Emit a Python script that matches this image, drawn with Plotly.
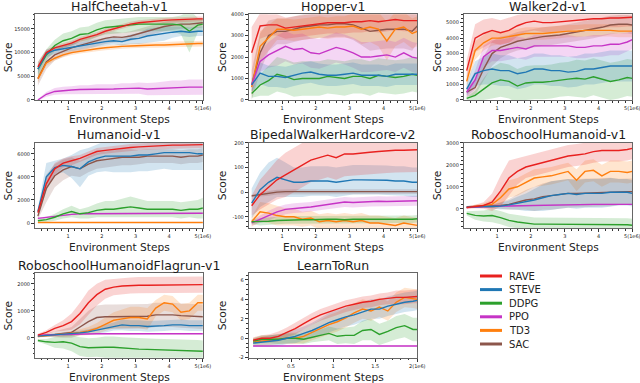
import plotly.graph_objects as go

# ---------------- data ----------------
X = [0.1, 0.35, 0.6, 0.85, 1.1, 1.35, 1.6, 1.85, 2.1, 2.35, 2.6, 2.85, 3.1, 3.35, 3.6, 3.85, 4.1, 4.35, 4.6, 4.85, 5.0]
X_LTR = [0.05, 0.15, 0.25, 0.35, 0.45, 0.55, 0.65, 0.75, 0.85, 0.95, 1.05, 1.15, 1.25, 1.35, 1.45, 1.55, 1.65, 1.75, 1.85, 1.95, 2.0]

methods = ["RAVE", "STEVE", "DDPG", "PPO", "TD3", "SAC"]
colors = {"RAVE": "#e8211f", "STEVE": "#1f77b4", "DDPG": "#2ca02c",
          "PPO": "#c634c6", "TD3": "#ff7f0e", "SAC": "#8c564b"}

# HalfCheetah-v1
hc_rave = [7000, 10000, 11000, 11500, 12000, 12800, 13300, 13800, 14500, 15000, 15500, 16000, 16300, 16500, 16700, 16800, 16900, 17000, 17000, 17100, 17100]
hc_rave_sd = [1000, 600, 500, 500, 500, 500, 500, 500, 500, 500, 500, 500, 500, 500, 500, 500, 500, 500, 500, 500, 500]
hc_steve = [6500, 9800, 10500, 10800, 11200, 11500, 11800, 12000, 12300, 12500, 12300, 12800, 13000, 13500, 13800, 14000, 14300, 14500, 14300, 14500, 14500]
hc_steve_sd = [1000, 800, 800, 800, 800, 800, 800, 800, 800, 800, 800, 1000, 1200, 1500, 1500, 1500, 1200, 1000, 1000, 1000, 1000]
hc_ddpg = [6500, 9500, 11500, 12500, 13000, 13800, 14000, 14800, 15300, 15500, 15600, 15800, 16000, 16000, 16000, 16000, 16000, 15800, 14500, 15800, 16000]
hc_ddpg_sd = [1500, 1200, 1200, 1500, 1500, 1500, 1500, 1500, 1500, 1500, 1500, 1500, 1500, 1500, 1500, 1500, 1500, 2000, 4500, 1500, 1200]
hc_ppo = [0, 1200, 1800, 2000, 2100, 2200, 2200, 2300, 2300, 2300, 2400, 2400, 2500, 2300, 2400, 2500, 2600, 2600, 2700, 2700, 2700]
hc_ppo_sd = [200, 500, 700, 800, 800, 900, 900, 1000, 1000, 1000, 1100, 1100, 1200, 1300, 1300, 1400, 1500, 1500, 1600, 1600, 1600]
hc_td3 = [4500, 7800, 8800, 9500, 10000, 10300, 10600, 10800, 11000, 11200, 11300, 11400, 11500, 11500, 11600, 11600, 11700, 11800, 11800, 11900, 11900]
hc_td3_sd = [800, 600, 500, 500, 500, 500, 500, 500, 500, 500, 500, 500, 500, 500, 600, 600, 600, 600, 600, 600, 600]
hc_sac = [4500, 8000, 9500, 10300, 11000, 11500, 12000, 12500, 13000, 13300, 13200, 13500, 14000, 14500, 15000, 15500, 15800, 16000, 16000, 16200, 16300]
hc_sac_sd = [1500, 1500, 1200, 1200, 1200, 1200, 1200, 1200, 1200, 1200, 1000, 1000, 1000, 1000, 1000, 1000, 1000, 1000, 1000, 1000, 1000]

# Hopper-v1
hop_rave = [2200, 3450, 3500, 3500, 3350, 3400, 3450, 3500, 3550, 3600, 3600, 3600, 3650, 3650, 3700, 3650, 3700, 3750, 3700, 3700, 3700]
hop_rave_sd = [1200, 600, 500, 500, 500, 500, 500, 500, 500, 500, 500, 500, 500, 500, 500, 500, 500, 500, 500, 500, 500]
hop_steve = [700, 1250, 1100, 1100, 1050, 1150, 1250, 1300, 1200, 1150, 1150, 1200, 1250, 1150, 1150, 1150, 1100, 1200, 1200, 1200, 1200]
hop_steve_sd = [300, 500, 500, 500, 500, 500, 500, 500, 500, 500, 500, 500, 500, 500, 500, 500, 500, 500, 500, 500, 500]
hop_ddpg = [300, 700, 900, 1200, 1100, 950, 1000, 1000, 1000, 1100, 1050, 1000, 1100, 1100, 1000, 1150, 1100, 1050, 1100, 1200, 1150]
hop_ddpg_sd = [200, 500, 700, 800, 800, 800, 800, 800, 800, 800, 800, 800, 800, 800, 800, 800, 800, 800, 800, 800, 800]
hop_ppo = [700, 1800, 2100, 2300, 2500, 2350, 2400, 2200, 2150, 2300, 2450, 2350, 2200, 2000, 2000, 2050, 2100, 2000, 2200, 2000, 1950]
hop_ppo_sd = [300, 500, 600, 700, 700, 700, 700, 700, 700, 700, 700, 700, 700, 700, 700, 700, 700, 700, 700, 700, 700]
hop_td3 = [600, 2500, 2900, 3300, 3300, 3250, 3300, 3350, 3400, 3350, 3400, 3400, 3450, 3300, 3400, 3300, 2750, 3300, 3400, 3100, 3200]
hop_td3_sd = [400, 700, 600, 500, 500, 500, 500, 500, 500, 500, 500, 500, 600, 700, 700, 800, 900, 800, 700, 700, 700]
hop_sac = [700, 2200, 3000, 3200, 3200, 3300, 3400, 3450, 3500, 3500, 3550, 3550, 3500, 3350, 3200, 3250, 3300, 3300, 3300, 3200, 3450]
hop_sac_sd = [700, 900, 700, 600, 600, 600, 600, 600, 600, 600, 600, 600, 700, 800, 900, 900, 900, 900, 900, 900, 800]

# Walker2d-v1
wk_rave = [1900, 4000, 4300, 4500, 4350, 4500, 4800, 5000, 5100, 5000, 5000, 5050, 5100, 5150, 5200, 5250, 5250, 5300, 5300, 5350, 5350]
wk_rave_sd = [700, 900, 900, 800, 800, 800, 700, 600, 600, 600, 600, 600, 600, 600, 600, 600, 600, 600, 600, 600, 600]
wk_steve = [700, 1700, 1900, 2000, 1900, 1900, 1700, 1800, 2000, 2000, 1900, 1900, 1800, 1850, 2000, 2000, 2100, 2200, 2200, 2200, 2200]
wk_steve_sd = [400, 800, 900, 1000, 1000, 1000, 1000, 1000, 1000, 1000, 1000, 1000, 1000, 1000, 1000, 1000, 1000, 1000, 1000, 1000, 1000]
wk_ddpg = [100, 300, 700, 1100, 1300, 1200, 900, 1100, 1150, 1150, 1200, 1300, 1350, 1400, 1350, 1500, 1350, 1200, 1300, 1450, 1400]
wk_ddpg_sd = [100, 300, 700, 1000, 1100, 1100, 1100, 1100, 1100, 1100, 1100, 1100, 1100, 1200, 1200, 1200, 1200, 1200, 1200, 1200, 1200]
wk_ppo = [500, 1300, 2800, 3200, 3200, 3300, 3400, 3300, 3500, 3500, 3500, 3500, 3500, 3400, 3400, 3500, 3500, 3600, 3600, 3750, 3900]
wk_ppo_sd = [300, 600, 700, 700, 700, 700, 700, 700, 700, 700, 700, 700, 700, 700, 700, 700, 700, 700, 700, 600, 600]
wk_td3 = [1200, 3200, 3700, 4000, 4000, 4100, 4200, 4300, 4300, 4300, 4350, 4400, 4450, 4450, 4500, 4500, 4500, 4500, 4450, 4450, 4450]
wk_td3_sd = [400, 600, 500, 500, 400, 400, 400, 400, 400, 400, 400, 400, 400, 400, 400, 400, 400, 400, 400, 400, 400]
wk_sac = [500, 800, 2000, 3000, 3400, 3600, 3800, 3900, 4000, 4100, 4150, 4200, 4300, 4400, 4500, 4600, 4700, 4850, 4900, 4900, 4850]
wk_sac_sd = [300, 500, 800, 800, 700, 600, 600, 600, 600, 600, 600, 600, 600, 600, 600, 600, 600, 600, 600, 600, 600]

# Humanoid-v1
hu_rave = [900, 3400, 4700, 5200, 5400, 5600, 5900, 6200, 6300, 6400, 6500, 6550, 6600, 6650, 6700, 6700, 6750, 6750, 6750, 6800, 6800]
hu_rave_sd = [300, 500, 500, 400, 400, 300, 300, 300, 300, 300, 300, 300, 300, 300, 300, 300, 300, 300, 300, 300, 300]
hu_steve = [1000, 4000, 4800, 5000, 4900, 4700, 5300, 5600, 5800, 5800, 5800, 5800, 5900, 5900, 6000, 6100, 6100, 6100, 6100, 6000, 6000]
hu_steve_sd = [300, 1200, 600, 600, 1000, 1600, 1200, 1200, 1300, 1400, 1400, 1400, 1400, 1400, 1400, 1400, 1500, 1500, 1500, 1400, 1400]
hu_ddpg = [200, 300, 500, 800, 1000, 800, 900, 1100, 1200, 1200, 1300, 1400, 1300, 1200, 1200, 1200, 1200, 1100, 1200, 1200, 1300]
hu_ddpg_sd = [100, 200, 300, 400, 500, 400, 500, 600, 700, 700, 800, 900, 800, 700, 700, 700, 700, 700, 700, 800, 900]
hu_ppo = [400, 500, 600, 700, 750, 800, 800, 800, 800, 800, 800, 800, 800, 800, 800, 800, 800, 850, 850, 850, 850]
hu_ppo_sd = [80, 60, 60, 60, 60, 60, 60, 60, 60, 60, 60, 60, 60, 60, 60, 60, 60, 60, 60, 60, 60]
hu_td3 = [50, 50, 50, 50, 50, 50, 50, 50, 50, 50, 50, 50, 50, 50, 50, 50, 50, 50, 50, 50, 50]
hu_td3_sd = [40, 40, 40, 40, 40, 40, 40, 40, 40, 40, 40, 40, 40, 40, 40, 40, 40, 40, 40, 40, 40]
hu_sac = [600, 3000, 4100, 4600, 4900, 4700, 5100, 5400, 5500, 5600, 5700, 5700, 5700, 5800, 5800, 5800, 5800, 5700, 5800, 5800, 5900]
hu_sac_sd = [300, 1200, 1000, 900, 800, 700, 700, 700, 700, 700, 700, 700, 600, 600, 600, 600, 600, 600, 600, 600, 600]

# BipedalWalkerHardcore-v2
bw_rave = [-55, -10, 20, 50, 70, 90, 110, 130, 140, 150, 140, 155, 155, 160, 162, 165, 168, 170, 170, 172, 172]
bw_rave_sd = [40, 60, 70, 80, 90, 90, 90, 90, 90, 90, 90, 90, 90, 90, 90, 90, 90, 90, 90, 90, 90]
bw_steve = [-45, 10, 40, 60, 50, 40, 40, 45, 45, 45, 40, 45, 50, 50, 50, 50, 48, 45, 45, 40, 40]
bw_steve_sd = [60, 70, 80, 80, 70, 60, 60, 60, 60, 60, 60, 60, 60, 60, 60, 60, 60, 60, 60, 60, 60]
bw_ddpg = [-120, -120, -118, -115, -113, -112, -112, -112, -110, -110, -110, -112, -110, -110, -110, -110, -112, -110, -110, -110, -108]
bw_ddpg_sd = [10, 15, 15, 15, 15, 15, 15, 15, 15, 15, 15, 15, 15, 15, 15, 15, 15, 15, 15, 15, 15]
bw_ppo = [-125, -110, -95, -80, -70, -65, -63, -60, -55, -50, -45, -40, -42, -40, -38, -37, -38, -37, -35, -35, -35]
bw_ppo_sd = [10, 15, 20, 20, 20, 20, 20, 20, 20, 20, 20, 20, 20, 20, 20, 20, 20, 20, 20, 20, 20]
bw_td3 = [-120, -80, -85, -95, -100, -100, -110, -105, -120, -115, -120, -115, -120, -115, -125, -125, -130, -135, -125, -130, -135]
bw_td3_sd = [20, 40, 40, 40, 35, 35, 30, 30, 30, 30, 30, 30, 30, 30, 30, 30, 30, 30, 30, 30, 30]
bw_sac = [-15, -10, -5, 0, 2, 2, 2, 2, 2, 2, 2, 2, 2, 2, 2, 2, 2, 2, 2, 2, 2]
bw_sac_sd = [5, 8, 10, 10, 10, 10, 10, 10, 10, 10, 10, 10, 10, 10, 10, 10, 10, 10, 10, 10, 10]

# RoboschoolHumanoid-v1
rh_rave = [60, 100, 150, 300, 800, 1400, 1700, 1900, 2000, 2100, 2200, 2300, 2400, 2450, 2500, 2600, 2650, 2650, 2650, 2700, 2750]
rh_rave_sd = [50, 80, 150, 400, 700, 800, 600, 500, 500, 500, 500, 500, 500, 500, 500, 500, 500, 500, 500, 500, 500]
rh_steve = [80, 100, 100, 100, 120, 180, 250, 300, 400, 500, 600, 650, 700, 650, 700, 700, 700, 750, 750, 750, 700]
rh_steve_sd = [50, 50, 50, 80, 150, 200, 300, 400, 500, 600, 650, 650, 650, 650, 650, 650, 650, 650, 600, 600, 600]
rh_ddpg = [-210, -300, -330, -310, -400, -530, -600, -640, -700, -700, -700, -700, -700, -700, -720, -700, -730, -730, -730, -730, -750]
rh_ddpg_sd = [100, 200, 250, 300, 300, 300, 300, 300, 300, 300, 300, 300, 300, 300, 300, 300, 300, 300, 300, 300, 300]
rh_ppo = [50, 80, 100, 110, 120, 130, 140, 150, 160, 170, 180, 180, 190, 190, 190, 200, 200, 200, 200, 200, 200]
rh_ppo_sd = [30, 30, 30, 30, 30, 30, 30, 30, 30, 30, 30, 30, 30, 30, 30, 30, 30, 30, 30, 30, 30]
rh_td3 = [60, 100, 150, 200, 500, 900, 1000, 1200, 1400, 1450, 1500, 1600, 1700, 1300, 1700, 1750, 1500, 1700, 1700, 1650, 1700]
rh_td3_sd = [50, 80, 100, 200, 300, 400, 400, 400, 400, 400, 400, 400, 400, 500, 500, 500, 500, 500, 500, 500, 500]
rh_sac = [80, 100, 100, 120, 150, 200, 300, 400, 450, 550, 600, 650, 700, 700, 720, 730, 750, 760, 770, 780, 780]
rh_sac_sd = [50, 50, 50, 80, 150, 250, 350, 450, 550, 600, 650, 650, 650, 650, 650, 650, 650, 650, 600, 600, 600]

# RoboschoolHumanoidFlagrun-v1
fr_rave = [100, 200, 350, 450, 600, 900, 1300, 1600, 1800, 1880, 1920, 1940, 1950, 1950, 1950, 1950, 1960, 1960, 1960, 1970, 1970]
fr_rave_sd = [50, 80, 120, 200, 300, 400, 450, 400, 350, 300, 300, 300, 300, 300, 300, 300, 300, 300, 300, 300, 300]
fr_steve = [60, 80, 100, 120, 140, 180, 220, 280, 350, 420, 480, 450, 450, 420, 430, 450, 480, 480, 450, 450, 450]
fr_steve_sd = [30, 40, 50, 60, 70, 80, 100, 120, 150, 150, 200, 200, 200, 200, 200, 200, 200, 200, 200, 200, 200]
fr_ddpg = [-100, -150, -170, -150, -200, -330, -370, -350, -350, -350, -380, -400, -420, -430, -440, -450, -450, -460, -470, -480, -500]
fr_ddpg_sd = [50, 100, 200, 250, 300, 350, 350, 350, 400, 400, 400, 400, 400, 400, 400, 400, 400, 400, 400, 400, 400]
fr_ppo = [100, 110, 120, 130, 140, 150, 150, 150, 150, 150, 150, 150, 150, 150, 150, 150, 150, 150, 150, 150, 150]
fr_ppo_sd = [20, 20, 20, 20, 20, 20, 20, 20, 20, 20, 20, 20, 20, 20, 20, 20, 20, 20, 20, 20, 20]
fr_td3 = [50, 80, 100, 120, 150, 200, 250, 350, 500, 650, 700, 750, 750, 700, 1100, 1300, 1250, 950, 1000, 1300, 1300]
fr_td3_sd = [30, 50, 60, 80, 100, 120, 150, 200, 250, 300, 350, 400, 400, 400, 300, 300, 300, 300, 300, 300, 300]
fr_sac = [50, 100, 120, 150, 200, 400, 600, 750, 780, 780, 780, 780, 800, 800, 850, 850, 850, 820, 800, 780, 780]
fr_sac_sd = [30, 60, 100, 150, 200, 300, 400, 450, 450, 450, 450, 450, 450, 450, 450, 450, 450, 450, 450, 450, 450]

# LearnToRun
lr_rave = [-0.2, 0.0, 0.0, 0.2, 0.6, 1.0, 1.5, 2.0, 2.4, 2.7, 3.0, 3.3, 3.5, 3.7, 3.8, 4.0, 4.1, 4.2, 4.2, 4.3, 4.3]
lr_rave_sd = [0.3, 0.3, 0.4, 0.5, 0.5, 0.6, 0.6, 0.6, 0.6, 0.6, 0.6, 0.6, 0.6, 0.6, 0.6, 0.6, 0.6, 0.7, 0.7, 0.7, 0.7]
lr_steve = [-0.5, -0.4, -0.3, -0.2, 0.0, 0.2, 0.5, 0.8, 1.2, 1.6, 1.9, 2.2, 2.4, 2.7, 3.0, 3.0, 3.3, 3.5, 3.7, 3.8, 3.9]
lr_steve_sd = [0.4, 0.5, 0.6, 0.6, 0.6, 0.7, 0.7, 0.8, 0.9, 1.0, 1.0, 1.0, 1.0, 1.0, 1.0, 1.0, 1.0, 1.0, 1.0, 1.0, 1.0]
lr_ddpg = [-0.3, -0.1, -0.1, -0.1, 0.0, 0.0, -0.1, 0.1, 0.3, 0.5, 0.2, 0.3, 0.3, 0.8, 0.9, 0.4, 0.7, 1.1, 1.3, 0.9, 0.9]
lr_ddpg_sd = [0.3, 0.4, 0.4, 0.5, 0.5, 0.5, 0.5, 0.5, 0.6, 0.7, 0.8, 0.8, 0.9, 1.0, 1.1, 1.1, 1.1, 1.2, 1.2, 1.2, 1.2]
lr_ppo = [-0.8, -0.8, -0.8, -0.8, -0.8, -0.8, -0.8, -0.8, -0.8, -0.8, -0.8, -0.8, -0.8, -0.8, -0.8, -0.8, -0.8, -0.8, -0.8, -0.8, -0.8]
lr_ppo_sd = [0.05, 0.05, 0.05, 0.05, 0.05, 0.05, 0.05, 0.05, 0.05, 0.05, 0.05, 0.05, 0.05, 0.05, 0.05, 0.05, 0.05, 0.05, 0.05, 0.05, 0.05]
lr_td3 = [-0.4, -0.3, -0.2, -0.1, 0.0, 0.0, 0.2, 0.6, 1.0, 1.4, 1.7, 2.1, 2.6, 3.0, 2.8, 3.2, 2.8, 3.7, 4.2, 4.1, 4.0]
lr_td3_sd = [0.4, 0.5, 0.5, 0.5, 0.6, 0.6, 0.7, 0.8, 0.9, 1.0, 1.0, 1.0, 1.0, 1.0, 1.0, 1.0, 1.0, 1.0, 1.0, 1.0, 1.0]

main_ticks = [1, 2, 3, 4, 5]
main_ticktext = ["1", "2", "3", "4", "5(1e6)"]
ltr_ticks = [0.5, 1, 1.5, 2]
ltr_ticktext = ["0.5", "1", "1.5", "2(1e6)"]

panels = [
    dict(title="HalfCheetah-v1", x=X, row=0, col=0, yrange=[0, 18100], yticks=[0, 5000, 10000, 15000], ydt=1000,
         series={"RAVE": (hc_rave, hc_rave_sd), "STEVE": (hc_steve, hc_steve_sd), "DDPG": (hc_ddpg, hc_ddpg_sd),
                 "PPO": (hc_ppo, hc_ppo_sd), "TD3": (hc_td3, hc_td3_sd), "SAC": (hc_sac, hc_sac_sd)}),
    dict(title="Hopper-v1", x=X, row=0, col=1, yrange=[0, 4000], yticks=[0, 1000, 2000, 3000, 4000], ydt=250,
         series={"RAVE": (hop_rave, hop_rave_sd), "STEVE": (hop_steve, hop_steve_sd), "DDPG": (hop_ddpg, hop_ddpg_sd),
                 "PPO": (hop_ppo, hop_ppo_sd), "TD3": (hop_td3, hop_td3_sd), "SAC": (hop_sac, hop_sac_sd)}),
    dict(title="Walker2d-v1", x=X, row=0, col=2, yrange=[0, 5550], yticks=[0, 1000, 2000, 3000, 4000, 5000], ydt=250,
         series={"RAVE": (wk_rave, wk_rave_sd), "STEVE": (wk_steve, wk_steve_sd), "DDPG": (wk_ddpg, wk_ddpg_sd),
                 "PPO": (wk_ppo, wk_ppo_sd), "TD3": (wk_td3, wk_td3_sd), "SAC": (wk_sac, wk_sac_sd)}),
    dict(title="Humanoid-v1", x=X, row=1, col=0, yrange=[-420, 6950], yticks=[0, 2000, 4000, 6000], ydt=500,
         series={"RAVE": (hu_rave, hu_rave_sd), "STEVE": (hu_steve, hu_steve_sd), "DDPG": (hu_ddpg, hu_ddpg_sd),
                 "PPO": (hu_ppo, hu_ppo_sd), "TD3": (hu_td3, hu_td3_sd), "SAC": (hu_sac, hu_sac_sd)}),
    dict(title="BipedalWalkerHardcore-v2", x=X, row=1, col=1, yrange=[-145, 200], yticks=[-100, 0, 100, 200], ydt=20,
         series={"RAVE": (bw_rave, bw_rave_sd), "STEVE": (bw_steve, bw_steve_sd), "DDPG": (bw_ddpg, bw_ddpg_sd),
                 "PPO": (bw_ppo, bw_ppo_sd), "TD3": (bw_td3, bw_td3_sd), "SAC": (bw_sac, bw_sac_sd)}),
    dict(title="RoboschoolHumanoid-v1", x=X, row=1, col=2, yrange=[-870, 3000], yticks=[0, 1000, 2000, 3000], ydt=200,
         series={"RAVE": (rh_rave, rh_rave_sd), "STEVE": (rh_steve, rh_steve_sd), "DDPG": (rh_ddpg, rh_ddpg_sd),
                 "PPO": (rh_ppo, rh_ppo_sd), "TD3": (rh_td3, rh_td3_sd), "SAC": (rh_sac, rh_sac_sd)}),
    dict(title="RoboschoolHumanoidFlagrun-v1", x=X, row=2, col=0, yrange=[-740, 2400], yticks=[0, 1000, 2000], ydt=200,
         series={"RAVE": (fr_rave, fr_rave_sd), "STEVE": (fr_steve, fr_steve_sd), "DDPG": (fr_ddpg, fr_ddpg_sd),
                 "PPO": (fr_ppo, fr_ppo_sd), "TD3": (fr_td3, fr_td3_sd), "SAC": (fr_sac, fr_sac_sd)}),
    dict(title="LearnToRun", x=X_LTR, row=2, col=1, yrange=[-2, 6.7], yticks=[-2, 0, 2, 4, 6], ydt=0.5,
         series={"RAVE": (lr_rave, lr_rave_sd), "STEVE": (lr_steve, lr_steve_sd), "DDPG": (lr_ddpg, lr_ddpg_sd),
                 "PPO": (lr_ppo, lr_ppo_sd), "TD3": (lr_td3, lr_td3_sd)}),
]

# ---------------- layout helpers ----------------
W, H = 640, 383
col_dom = [[0.055, 0.317], [0.389, 0.652], [0.725, 0.988]]
row_dom = [[0.739, 0.963], [0.405, 0.627], [0.066, 0.287]]

def hex_rgba(h, a):
    h = h.lstrip("#")
    return "rgba(%d,%d,%d,%.2f)" % (int(h[0:2], 16), int(h[2:4], 16), int(h[4:6], 16), a)

fig = go.Figure()
layout = dict(width=W, height=H, margin=dict(l=0, r=0, t=0, b=0, autoexpand=False),
              paper_bgcolor="white", plot_bgcolor="white", showlegend=False,
              font=dict(family="DejaVu Sans", color="#222"), annotations=[], shapes=[])

draw_order = ["SAC", "TD3", "PPO", "DDPG", "STEVE", "RAVE"]

for i, p in enumerate(panels):
    k = "" if i == 0 else str(i + 1)
    xa, ya = "x" + k, "y" + k
    xs = p["x"]
    for m in draw_order:
        if m not in p["series"]:
            continue
        mean, sd = p["series"][m]
        up = [a + b for a, b in zip(mean, sd)]
        lo = [a - b for a, b in zip(mean, sd)]
        fig.add_trace(go.Scatter(x=list(xs) + list(xs)[::-1], y=up + lo[::-1], fill="toself",
                                 fillcolor=hex_rgba(colors[m], 0.2), line=dict(width=0),
                                 mode="lines", hoverinfo="skip", showlegend=False, xaxis=xa, yaxis=ya))
    for m in draw_order:
        if m not in p["series"]:
            continue
        mean, sd = p["series"][m]
        fig.add_trace(go.Scatter(x=xs, y=mean, mode="lines", line=dict(color=colors[m], width=1.4),
                                 showlegend=False, name=m, xaxis=xa, yaxis=ya))

    is_ltr = p["title"] == "LearnToRun"
    xdom = col_dom[p["col"]]
    ydom = row_dom[p["row"]]
    axis_common = dict(showline=True, mirror=True, linecolor="#666", linewidth=1.3, showgrid=False,
                       zeroline=False, ticks="outside", ticklen=3, tickwidth=0.8, tickcolor="#333",
                       tickfont=dict(size=5, color="#222"), automargin=False, ticklabeloverflow="allow")
    layout["xaxis" + k] = dict(domain=xdom, anchor=ya,
                               range=[0, 2] if is_ltr else [0.02, 5.0],
                               tickvals=ltr_ticks if is_ltr else main_ticks,
                               ticktext=ltr_ticktext if is_ltr else main_ticktext,
                               minor=dict(ticks="outside", ticklen=1.5, tickcolor="#333",
                                          dtick=0.1 if is_ltr else 0.2, tick0=0),
                               **axis_common)
    layout["yaxis" + k] = dict(domain=ydom, anchor=xa, range=p["yrange"], tickvals=p["yticks"],
                               ticktext=[str(v) for v in p["yticks"]],
                               minor=dict(ticks="outside", ticklen=1.5, tickcolor="#333", dtick=p["ydt"], tick0=0),
                               **axis_common)
    xc = (xdom[0] + xdom[1]) / 2
    layout["annotations"].append(dict(text=p["title"], x=xc, y=ydom[1], xref="paper", yref="paper",
                                      xanchor="center", yanchor="middle", yshift=8,
                                      showarrow=False, font=dict(size=12.5, color="#1a1a1a")))
    layout["annotations"].append(dict(text="Environment Steps", x=xc, y=ydom[0], xref="paper", yref="paper",
                                      xanchor="center", yanchor="middle", yshift=-19,
                                      showarrow=False, font=dict(size=10.6, color="#222")))
    layout["annotations"].append(dict(text="Score", x=xdom[0], y=(ydom[0] + ydom[1]) / 2,
                                      xref="paper", yref="paper", xanchor="center", yanchor="middle",
                                      xshift=-27, textangle=-90,
                                      showarrow=False, font=dict(size=10.6, color="#222")))

# manual legend (line swatch + label)
leg_x0, leg_x1, leg_tx = 480 / W, 502 / W, 507 / W
leg_y0, leg_dy = 276, 13.6
for j, m in enumerate(methods):
    yy = 1 - (leg_y0 + j * leg_dy) / H
    layout["shapes"].append(dict(type="line", xref="paper", yref="paper", x0=leg_x0, x1=leg_x1, y0=yy, y1=yy,
                                 line=dict(color=colors[m], width=3)))
    layout["annotations"].append(dict(text=m, x=leg_tx, y=yy, xref="paper", yref="paper",
                                      xanchor="left", yanchor="middle", showarrow=False,
                                      font=dict(size=10, color="#222")))

fig.update_layout(**layout)
fig.write_html("out.html", config={"displayModeBar": False},
               post_script="document.body.style.margin='0';")
